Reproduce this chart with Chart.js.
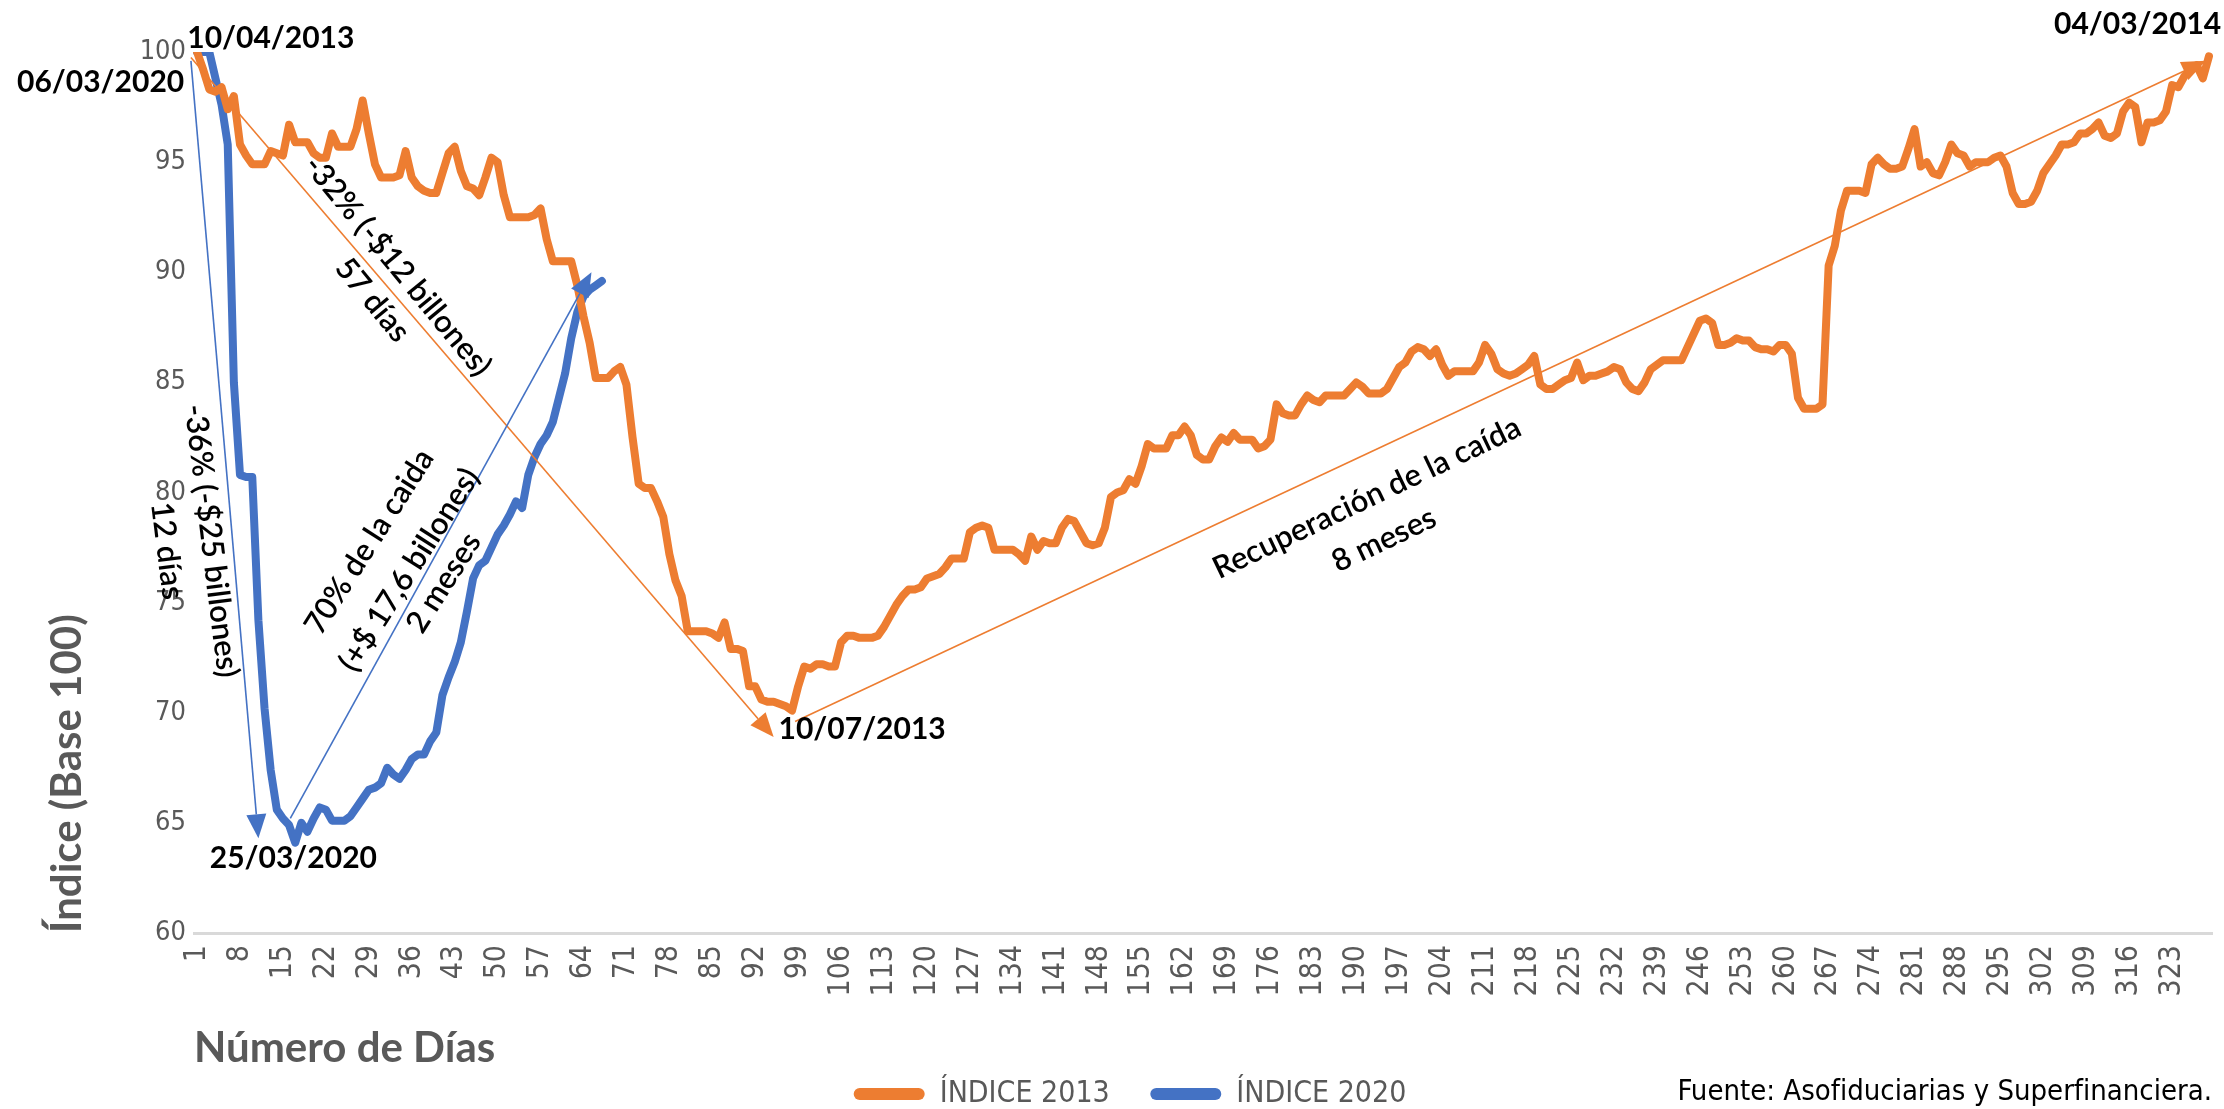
<!DOCTYPE html>
<html lang="es">
<head>
<meta charset="utf-8">
<title>Índice 2013 vs Índice 2020</title>
<script src="https://cdn.jsdelivr.net/npm/chart.js@4.4.1/dist/chart.umd.min.js"></script>
<style>
  html, body { margin: 0; padding: 0; background: #fff; }
  #grafico { display: block; }
</style>
</head>
<body>
<canvas id="grafico" width="2224" height="1109"></canvas>
<script>
// Datos (índice base 100 por número de día)
const dias = Array.from({ length: 329 }, (_, k) => String(k + 1));

const indice2013 = [
    100, 99.2, 98.3, 98.2, 98.4, 97.4, 98.0, 95.8, 95.3, 94.9,
    94.9, 94.9, 95.5, 95.4, 95.3, 96.7, 95.9, 95.9, 95.9, 95.4,
    95.2, 95.2, 96.3, 95.7, 95.7, 95.7, 96.5, 97.8, 96.3, 94.9,
    94.3, 94.3, 94.3, 94.4, 95.5, 94.3, 93.9, 93.7, 93.6, 93.6,
    94.5, 95.4, 95.7, 94.6, 93.9, 93.8, 93.5, 94.3, 95.2, 95.0,
    93.5, 92.5, 92.5, 92.5, 92.5, 92.6, 92.9, 91.5, 90.5, 90.5,
    90.5, 90.5, 89.4, 88.0, 86.8, 85.2, 85.2, 85.2, 85.5, 85.7,
    84.9, 82.5, 80.4, 80.2, 80.2, 79.6, 78.9, 77.2, 76.0, 75.3,
    73.7, 73.7, 73.7, 73.7, 73.6, 73.4, 74.1, 72.9, 72.9, 72.8,
    71.2, 71.2, 70.6, 70.5, 70.5, 70.4, 70.3, 70.1, 71.2, 72.1,
    72.0, 72.2, 72.2, 72.1, 72.1, 73.2, 73.5, 73.5, 73.4, 73.4,
    73.4, 73.5, 73.9, 74.4, 74.9, 75.3, 75.6, 75.6, 75.7, 76.1,
    76.2, 76.3, 76.6, 77.0, 77.0, 77.0, 78.2, 78.4, 78.5, 78.4,
    77.4, 77.4, 77.4, 77.4, 77.2, 76.9, 78.0, 77.4, 77.8, 77.7,
    77.7, 78.4, 78.8, 78.7, 78.2, 77.7, 77.6, 77.7, 78.4, 79.8,
    80.0, 80.1, 80.6, 80.4, 81.2, 82.2, 82.0, 82.0, 82.0, 82.6,
    82.6, 83.0, 82.6, 81.7, 81.5, 81.5, 82.1, 82.5, 82.3, 82.7,
    82.4, 82.4, 82.4, 82.0, 82.1, 82.4, 84.0, 83.6, 83.5, 83.5,
    84.0, 84.4, 84.2, 84.1, 84.4, 84.4, 84.4, 84.4, 84.7, 85.0,
    84.8, 84.5, 84.5, 84.5, 84.7, 85.2, 85.7, 85.9, 86.4, 86.6,
    86.5, 86.2, 86.5, 85.8, 85.3, 85.5, 85.5, 85.5, 85.5, 85.9,
    86.7, 86.3, 85.6, 85.4, 85.3, 85.4, 85.6, 85.8, 86.2, 84.9,
    84.7, 84.7, 84.9, 85.1, 85.2, 85.9, 85.1, 85.3, 85.3, 85.4,
    85.5, 85.7, 85.6, 85.0, 84.7, 84.6, 85.0, 85.6, 85.8, 86.0,
    86.0, 86.0, 86.0, 86.6, 87.2, 87.8, 87.9, 87.7, 86.7, 86.7,
    86.8, 87.0, 86.9, 86.9, 86.6, 86.5, 86.5, 86.4, 86.7, 86.7,
    86.3, 84.3, 83.8, 83.8, 83.8, 84.0, 90.3, 91.2, 92.8, 93.7,
    93.7, 93.7, 93.6, 94.9, 95.2, 94.9, 94.7, 94.7, 94.8, 95.6,
    96.5, 94.8, 95.0, 94.5, 94.4, 95.0, 95.8, 95.4, 95.3, 94.8,
    95.0, 95.0, 95.0, 95.2, 95.3, 94.8, 93.6, 93.1, 93.1, 93.2,
    93.7, 94.5, 94.9, 95.3, 95.8, 95.8, 95.9, 96.3, 96.3, 96.5,
    96.8, 96.2, 96.1, 96.3, 97.3, 97.7, 97.5, 95.9, 96.8, 96.8,
    96.9, 97.3, 98.5, 98.4, 98.9, 99.2, 99.4, 98.8, 99.8
];

const indice2020 = [
    100, 100, 100, 98.8, 97.6, 95.8, 85.0, 80.8, 80.7, 80.7,
    74.2, 70.2, 67.4, 65.6, 65.2, 64.9, 64.1, 65.0, 64.6, 65.2,
    65.7, 65.6, 65.1, 65.1, 65.1, 65.3, 65.7, 66.1, 66.5, 66.6,
    66.8, 67.5, 67.2, 67.0, 67.4, 67.9, 68.1, 68.1, 68.7, 69.1,
    70.8, 71.6, 72.3, 73.2, 74.6, 76.1, 76.7, 76.9, 77.5, 78.1,
    78.5, 79.0, 79.6, 79.3, 80.8, 81.6, 82.2, 82.6, 83.2, 84.3,
    85.4, 87.0, 88.2, 88.9, 89.2, 89.4, 89.6
];

const nombresSeries = ['ÍNDICE 2013', 'ÍNDICE 2020'];
const limitesY = [60, 100];
const pasoY = 5;
const cadaDias = 7;

// Flechas y rótulos, en coordenadas del gráfico: [día (índice desde 0), valor]
const flechas = [
    { desde: [-1, 99.75], hasta: [94.0, 68.9], serie: 0 },
    { desde: [97.5, 69.6], hasta: [327.5, 99.6], serie: 0 },
    { desde: [-1, 99.6], hasta: [10.0, 64.3], serie: 1 },
    { desde: [15.2, 65.2], hasta: [64.3, 90.0], serie: 1 }
];

const rotulos = [
    { texto: '10/04/2013', en: [-1.6, 100.64], alin: 'left', fecha: true },
    { texto: '06/03/2020', en: [-2.1, 98.64], alin: 'right', fecha: true },
    { texto: '25/03/2020', en: [15.7, 63.4], alin: 'center', fecha: true },
    { texto: '10/07/2013', en: [94.8, 69.27], alin: 'left', fecha: true },
    { texto: '04/03/2014', en: [330.0, 101.27], alin: 'right', fecha: true },
    { texto: '-32% (-$12 billones)', en: [32.7, 90.29], angulo: 50.5 },
    { texto: '57 días', en: [28.6, 88.74], angulo: 50.5 },
    { texto: '-36% (-$25 billones)', en: [2.3, 77.8], angulo: 83 },
    { texto: '12 días', en: [-4.9, 77.35], angulo: 83 },
    { texto: '70% de la caida', en: [28.1, 77.76], angulo: -57.5 },
    { texto: '(+$ 17,6 billones)', en: [34.6, 76.49], angulo: -57.5 },
    { texto: '2 meses', en: [40.2, 75.9], angulo: -57.5 },
    { texto: 'Recuperación de la caída', en: [190.7, 79.75], angulo: -25.5 },
    { texto: '8 meses', en: [193.5, 77.85], angulo: -25.5 }
];

const fuenteTexto = 'Fuente: Asofiduciarias y Superfinanciera.';

// Estilo
const NARANJA = '#ED7D31';
const AZUL = '#4472C4';
const GRIS = '#595959';
const colores = [NARANJA, AZUL];
const FUENTE_ESTRECHA = "'Liberation Sans Narrow', 'Arial Narrow', 'DejaVu Sans Condensed', sans-serif";
const FUENTE_NORMAL = "Lato, 'Open Sans', sans-serif";

// Bordes del área de trazado en el lienzo
const AREA_IZQ = 194;
const AREA_SUP = 52;
const AREA_INF = 933;
const PAD_IZQ = 48;
const PAD_DER = 12;
const PAD_INF = -10;

function dibujarFlecha(ctx, x1, y1, x2, y2, color) {
    const ang = Math.atan2(y2 - y1, x2 - x1);
    const largo = 24, ancho = 10;
    const bx = x2 - largo * Math.cos(ang);
    const by = y2 - largo * Math.sin(ang);
    ctx.strokeStyle = color;
    ctx.fillStyle = color;
    ctx.lineWidth = 1.6;
    ctx.beginPath();
    ctx.moveTo(x1, y1);
    ctx.lineTo(bx, by);
    ctx.stroke();
    ctx.beginPath();
    ctx.moveTo(x2, y2);
    ctx.lineTo(bx + ancho * Math.sin(ang), by - ancho * Math.cos(ang));
    ctx.lineTo(bx - ancho * Math.sin(ang), by + ancho * Math.cos(ang));
    ctx.closePath();
    ctx.fill();
}

const anotaciones = {
    id: 'anotaciones',
    afterDatasetsDraw(chart) {
        const { ctx, scales: { x, y } } = chart;
        const px = p => x.getPixelForValue(p);
        const py = v => y.getPixelForValue(v);

        ctx.save();
        flechas.forEach(f => {
            dibujarFlecha(ctx, px(f.desde[0]), py(f.desde[1]), px(f.hasta[0]), py(f.hasta[1]), colores[f.serie]);
        });

        rotulos.forEach(r => {
            ctx.save();
            ctx.translate(px(r.en[0]), py(r.en[1]));
            ctx.rotate((r.angulo || 0) * Math.PI / 180);
            ctx.font = r.fecha ? `bold 30px ${FUENTE_NORMAL}` : `600 31px ${FUENTE_NORMAL}`;
            ctx.fillStyle = '#000';
            ctx.textAlign = r.alin || 'center';
            ctx.textBaseline = 'middle';
            ctx.fillText(r.texto, 0, 0);
            ctx.restore();
        });
        ctx.restore();
    },
    afterDraw(chart) {
        const { ctx } = chart;
        ctx.save();
        ctx.font = `29px ${FUENTE_ESTRECHA}`;
        ctx.fillStyle = '#000';
        ctx.textAlign = 'right';
        ctx.textBaseline = 'middle';
        ctx.fillText(fuenteTexto, chart.width - PAD_DER, 1092);
        ctx.restore();
    }
};

window.onload = function () {
    const ctx = document.getElementById('grafico').getContext('2d');

    new Chart(ctx, {
        type: 'line',
        data: {
            labels: dias,
            datasets: [
                {
                    label: nombresSeries[0],
                    data: indice2013,
                    borderColor: NARANJA,
                    backgroundColor: NARANJA,
                    borderWidth: 8,
                    pointRadius: 0,
                    tension: 0,
                    fill: false,
                    borderJoinStyle: 'round',
                    borderCapStyle: 'round'
                },
                {
                    label: nombresSeries[1],
                    data: indice2020,
                    borderColor: AZUL,
                    backgroundColor: AZUL,
                    borderWidth: 8,
                    pointRadius: 0,
                    tension: 0,
                    fill: false,
                    borderJoinStyle: 'round',
                    borderCapStyle: 'round'
                }
            ]
        },
        options: {
            responsive: false,
            animation: false,
            devicePixelRatio: 1,
            layout: { padding: { top: AREA_SUP, right: PAD_DER, bottom: PAD_INF, left: PAD_IZQ } },
            plugins: {
                tooltip: { enabled: false },
                legend: {
                    position: 'bottom',
                    labels: {
                        boxWidth: 71,
                        boxHeight: 12,
                        useBorderRadius: true,
                        borderRadius: 6,
                        padding: 5,
                        color: GRIS,
                        font: { family: FUENTE_ESTRECHA, size: 30 },
                        generateLabels(chart) {
                            const items = Chart.defaults.plugins.legend.labels.generateLabels(chart);
                            return items.map((it, k) => Object.assign(it, {
                                lineWidth: 0,
                                fillStyle: colores[k],
                                text: k === 0 ? it.text + '\u2003 ' : it.text
                            }));
                        }
                    }
                }
            },
            scales: {
                x: {
                    type: 'category',
                    offset: true,
                    grid: { display: false, drawTicks: false },
                    border: { display: true, color: '#D9D9D9', width: 3 },
                    ticks: {
                        autoSkip: false,
                        maxRotation: 90,
                        minRotation: 90,
                        padding: 12,
                        color: GRIS,
                        font: { family: FUENTE_ESTRECHA, size: 30 },
                        callback: (valor, i) => (i % cadaDias === 0 ? dias[i] : '')
                    },
                    title: {
                        display: true,
                        text: 'Número de Días',
                        align: 'start',
                        color: GRIS,
                        font: { family: FUENTE_NORMAL, size: 42, weight: 'bold' },
                        padding: { top: 0, bottom: 0 }
                    },
                    afterFit(scale) {
                        scale.height = scale.chart.height - PAD_INF - AREA_INF - scale.chart.legend.height;
                        scale.paddingLeft = 0;
                        scale.paddingRight = 0;
                    }
                },
                y: {
                    min: limitesY[0],
                    max: limitesY[1],
                    grid: { display: false, drawTicks: false },
                    border: { display: false },
                    ticks: {
                        stepSize: pasoY,
                        padding: 8,
                        color: GRIS,
                        font: { family: FUENTE_ESTRECHA, size: 27 }
                    },
                    title: {
                        display: true,
                        text: 'Índice (Base 100)',
                        align: 'start',
                        color: GRIS,
                        font: { family: FUENTE_NORMAL, size: 42, weight: 'bold' },
                        padding: { top: -6, bottom: 0 }
                    },
                    afterFit(scale) {
                        scale.width = AREA_IZQ - PAD_IZQ;
                    }
                }
            }
        },
        plugins: [anotaciones]
    });
};
</script>
</body>
</html>
